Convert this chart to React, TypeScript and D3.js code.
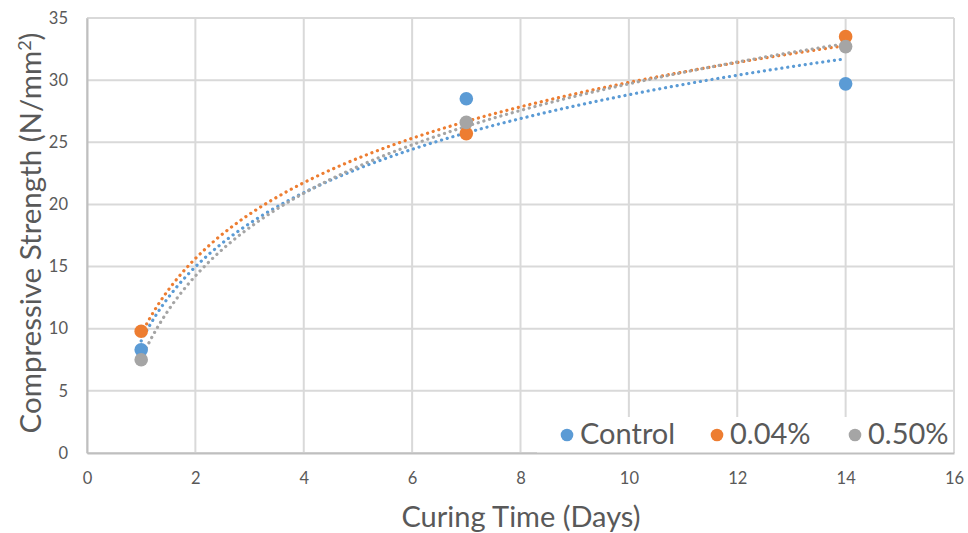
import React, { useEffect, useRef } from "react";
import * as d3 from "d3";

const curingDays = [1, 7, 14];
const controlStrength = [8.3, 28.5, 29.7];
const strength004 = [9.8, 25.7, 33.5];
const strength050 = [7.5, 26.6, 32.7];
const seriesNames = ["Control", "0.04%", "0.50%"];
const seriesColors = ["#5B9BD5", "#ED7D31", "#A5A5A5"];
const xTicks = [0, 2, 4, 6, 8, 10, 12, 14, 16];
const yTicks = [0, 5, 10, 15, 20, 25, 30, 35];

// least squares fit of y = a*ln(x) + b (Excel log trendline)
function logFit(xs: number[], ys: number[]) {
  const lx = xs.map((v) => Math.log(v));
  const mx = d3.mean(lx) as number;
  const my = d3.mean(ys) as number;
  let sxy = 0;
  let sxx = 0;
  lx.forEach((v, i) => {
    sxy += (v - mx) * (ys[i] - my);
    sxx += (v - mx) * (v - mx);
  });
  const a = sxy / sxx;
  const b = my - a * mx;
  return (x: number) => a * Math.log(x) + b;
}

export default function App() {
  const ref = useRef<SVGSVGElement>(null);

  useEffect(() => {
    const svg = d3.select(ref.current);
    svg.selectAll("*").remove();
    const width = 968;
    const height = 533;
    const margin = { top: 18, right: 14, bottom: 80, left: 87 };
    const font = "Lato, 'Open Sans', sans-serif";

    const x = d3.scaleLinear().domain([0, 16]).range([margin.left, width - margin.right]);
    const y = d3.scaleLinear().domain([0, 35]).range([height - margin.bottom, margin.top]);

    svg.append("rect").attr("width", width).attr("height", height).attr("fill", "#fff");

    // gridlines
    const grid = svg.append("g").attr("stroke", "#d9d9d9").attr("stroke-width", 2);
    grid.selectAll(".gy").data(yTicks).join("line")
      .attr("x1", x(0)).attr("x2", x(16))
      .attr("y1", (d) => y(d)).attr("y2", (d) => y(d));
    grid.selectAll(".gx").data(xTicks).join("line")
      .attr("y1", y(0)).attr("y2", y(35))
      .attr("x1", (d) => x(d)).attr("x2", (d) => x(d));

    // legend background sits over the grid
    svg.append("rect")
      .attr("x", 537).attr("y", 417)
      .attr("width", x(16) - 538).attr("height", y(0) - 417)
      .attr("fill", "#fff");
    svg.append("line")
      .attr("x1", x(16)).attr("x2", x(16)).attr("y1", y(35)).attr("y2", y(0))
      .attr("stroke", "#d9d9d9").attr("stroke-width", 2);

    // axes
    svg.append("g")
      .attr("transform", `translate(0,${y(0)})`)
      .call(d3.axisBottom(x).tickValues(xTicks).tickSize(0).tickPadding(19).tickFormat(d3.format("d")))
      .call((g: any) => g.select(".domain").attr("stroke", "#bfbfbf").attr("stroke-width", 2))
      .call((g: any) => g.selectAll("text").attr("fill", "#595959").style("font-size", "16.5px").style("font-family", font));
    svg.append("g")
      .attr("transform", `translate(${x(0)},0)`)
      .call(d3.axisLeft(y).tickValues(yTicks).tickSize(0).tickPadding(19).tickFormat(d3.format("d")))
      .call((g: any) => g.select(".domain").attr("stroke", "#bfbfbf").attr("stroke-width", 2))
      .call((g: any) => g.selectAll("text").attr("fill", "#595959").style("font-size", "16.5px").style("font-family", font));

    const series = [controlStrength, strength004, strength050];

    // trendlines
    series.forEach((vals, i) => {
      const f = logFit(curingDays, vals);
      const xs = d3.range(1, 14.001, 0.05);
      svg.append("path")
        .attr("d", d3.line<number>().x((d) => x(d)).y((d) => y(f(d)))(xs))
        .attr("fill", "none")
        .attr("stroke", seriesColors[i])
        .attr("stroke-width", 3.2)
        .attr("stroke-linecap", "round")
        .attr("stroke-dasharray", "0.1 5.8");
    });

    // points
    series.forEach((vals, i) => {
      svg.append("g").selectAll("circle").data(vals).join("circle")
        .attr("cx", (_d, j) => x(curingDays[j]))
        .attr("cy", (d) => y(d))
        .attr("r", 6.8)
        .attr("fill", seriesColors[i]);
    });

    // legend
    const legX = [567, 717, 855];
    seriesNames.forEach((name, i) => {
      svg.append("circle").attr("cx", legX[i]).attr("cy", 435).attr("r", 6.3).attr("fill", seriesColors[i]);
      svg.append("text")
        .attr("x", legX[i] + 13).attr("y", 444)
        .attr("fill", "#595959")
        .style("font-size", "29px").style("font-family", font)
        .text(name);
    });

    // titles
    svg.append("text")
      .attr("x", 521).attr("y", 527)
      .attr("text-anchor", "middle")
      .attr("fill", "#595959")
      .style("font-size", "29px").style("font-family", font)
      .text("Curing Time (Days)");
    const yt = svg.append("text")
      .attr("transform", "translate(41,233) rotate(-90)")
      .attr("text-anchor", "middle")
      .attr("fill", "#595959")
      .style("font-size", "29.5px").style("font-family", font);
    yt.append("tspan").text("Compressive Strength (N/mm");
    yt.append("tspan").attr("dy", -10).style("font-size", "18px").text("2");
    yt.append("tspan").attr("dy", 10).text(")");
  }, []);

  return <svg ref={ref} width={968} height={533} style={{ position: "absolute", left: 0, top: 0 }} />;
}
